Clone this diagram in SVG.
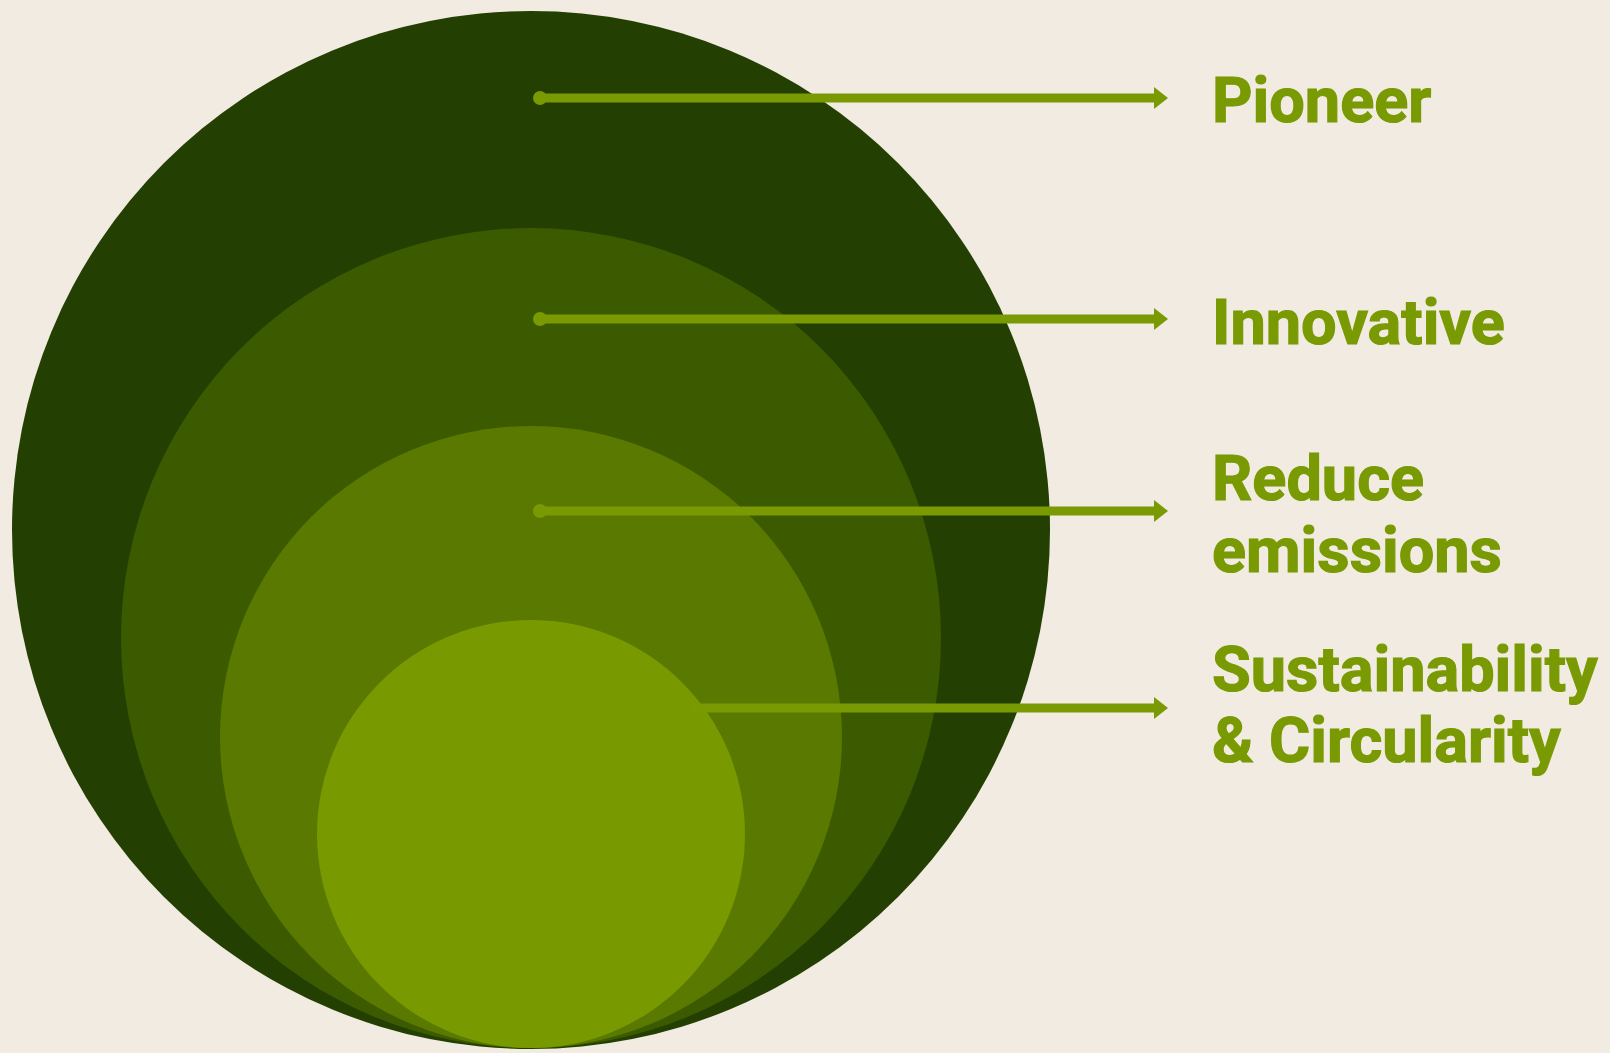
<svg xmlns="http://www.w3.org/2000/svg" width="1610" height="1053" viewBox="0 0 1610 1053">
  <defs>
    <marker id="arrow" viewBox="0 0 14 22" refX="1" refY="11" markerWidth="14" markerHeight="22" markerUnits="userSpaceOnUse" orient="auto">
      <path d="M0,0 L14,11 L0,22 Z" fill="#799a02"/>
    </marker>
    <style>
      .lbl { font-family: Roboto, "Liberation Sans", sans-serif; font-weight: 700; font-size: 63px; fill: #799a02; stroke: #799a02; stroke-width: 1.2; }
      .conn { stroke: #799a02; stroke-width: 9; fill: none; }
      .dot { fill: #799a02; }
    </style>
  </defs>
  <rect width="1610" height="1053" fill="#f1ebe1"/>
  <g id="level-pioneer"><circle cx="531" cy="530" r="519" fill="#233f01"/></g>
  <g id="level-innovative"><circle cx="531" cy="638" r="410" fill="#3c5b00"/></g>
  <g id="level-reduce"><circle cx="531" cy="737" r="311" fill="#5a7900"/></g>
  <g id="level-sustainability"><circle cx="531" cy="834" r="214" fill="#789900"/></g>
  <g id="connectors">
    <circle class="dot" cx="540" cy="98" r="7"/>
    <line class="conn" x1="540" y1="98" x2="1155" y2="98" marker-end="url(#arrow)"/>
    <circle class="dot" cx="540" cy="319" r="7"/>
    <line class="conn" x1="540" y1="319" x2="1155" y2="319" marker-end="url(#arrow)"/>
    <circle class="dot" cx="540" cy="511" r="7"/>
    <line class="conn" x1="540" y1="511" x2="1155" y2="511" marker-end="url(#arrow)"/>
    <line class="conn" x1="690" y1="708" x2="1155" y2="708" marker-end="url(#arrow)"/>
  </g>
  <g id="label-pioneer"><text class="lbl" x="1212" y="122">Pioneer</text></g>
  <g id="label-innovative"><text class="lbl" x="1212" y="344">Innovative</text></g>
  <g id="label-reduce"><text class="lbl" x="1212" y="500">Reduce</text><text class="lbl" x="1212" y="572">emissions</text></g>
  <g id="label-sustainability"><text class="lbl" x="1212" y="691">Sustainability</text><text class="lbl" x="1212" y="762">&amp; Circularity</text></g>
</svg>
